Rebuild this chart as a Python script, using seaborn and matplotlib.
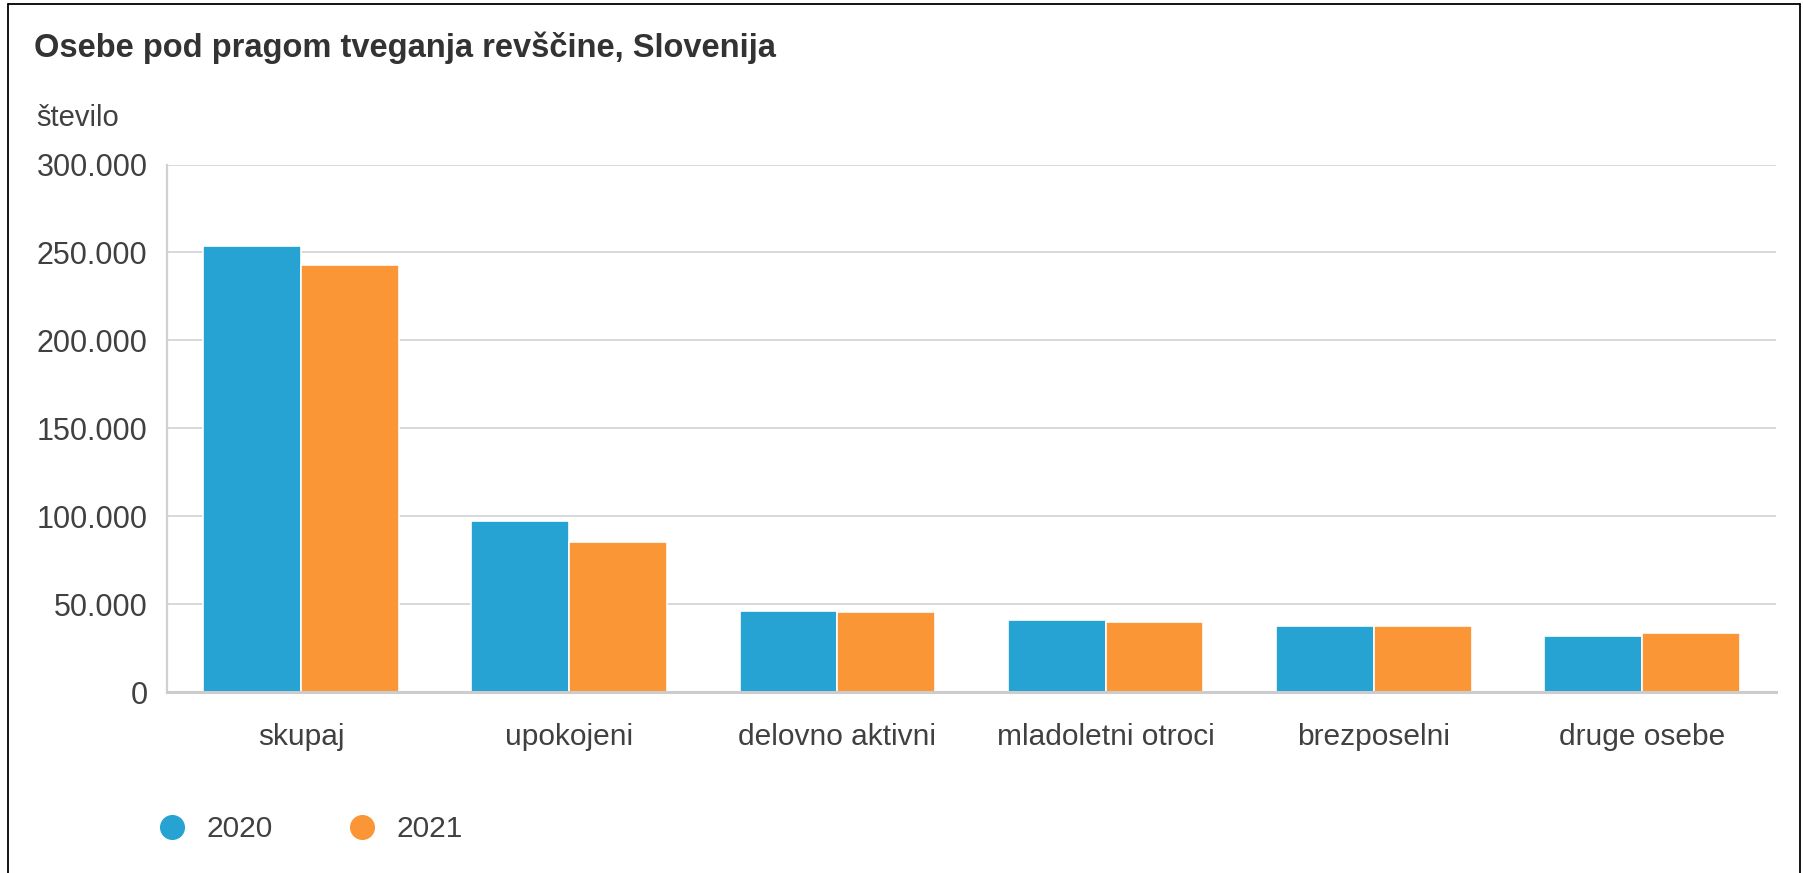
import matplotlib
matplotlib.use("Agg")
import matplotlib.pyplot as plt
import seaborn as sns
import pandas as pd
from matplotlib.lines import Line2D
from matplotlib.ticker import FuncFormatter, FixedLocator

categories = ["skupaj", "upokojeni", "delovno aktivni", "mladoletni otroci", "brezposelni", "druge osebe"]
years = ["2020", "2021"]
values_2020 = [253800, 97000, 45800, 40900, 37600, 31900]
values_2021 = [242700, 85300, 45600, 39600, 37500, 33800]
yticks = [0, 50000, 100000, 150000, 200000, 250000, 300000]

title = "Osebe pod pragom tveganja revščine, Slovenija"
ylabel = "število"
colors = ["#26A2D3", "#FB9637"]

sns.set_theme(style="white")
plt.rcParams["font.family"] = ["Liberation Sans", "DejaVu Sans"]

df = pd.DataFrame({
    "kategorija": categories * 2,
    "leto": [years[0]] * len(categories) + [years[1]] * len(categories),
    "vrednost": values_2020 + values_2021,
})

W, H = 1803, 873
fig = plt.figure(figsize=(W / 100, H / 100), dpi=100)
fig.patch.set_facecolor("white")

ax_left, ax_right = 167, 1776
ax_top, ax_bottom = 164.5, 692
ax = fig.add_axes([ax_left / W, 1 - ax_bottom / H, (ax_right - ax_left) / W, (ax_bottom - ax_top) / H])

sns.barplot(data=df, x="kategorija", y="vrednost", hue="leto", order=categories,
            hue_order=years, palette=colors, width=0.73, ax=ax,
            edgecolor="white", linewidth=1.2, saturation=1, legend=False)

ax.set_ylim(0, 300000)
ax.set_xlim(-0.5, len(categories) - 0.5)
ax.yaxis.set_major_locator(FixedLocator(yticks))
ax.yaxis.set_major_formatter(FuncFormatter(lambda v, p: f"{int(v):,}".replace(",", ".")))
ax.set_xlabel("")
ax.set_ylabel("")

txt_color = "#404040"
fs = 21.5
ax.grid(axis="y", color="#d6d6d6", linewidth=1.3)
ax.set_axisbelow(True)
for s in ["top", "right"]:
    ax.spines[s].set_visible(False)
ax.spines["left"].set_color("#d0d0d0")
ax.spines["left"].set_linewidth(1.6)
ax.spines["bottom"].set_color("#cccccc")
ax.spines["bottom"].set_linewidth(2.2)

ax.tick_params(axis="y", length=0, pad=14, labelsize=fs + 0.5, labelcolor=txt_color)
ax.tick_params(axis="x", which="major", length=0, pad=22, labelsize=fs, labelcolor=txt_color)
ax.set_xticks([i - 0.5 for i in range(len(categories) + 1)], minor=True)
ax.tick_params(axis="x", which="minor", length=7, width=1.2, color="#cccccc", direction="out")

fig.text(34 / W, 1 - 48 / H, title, fontsize=23.5, fontweight="bold", color="#333333",
         ha="left", va="center")
fig.text(36 / W, 1 - 118 / H, ylabel, fontsize=fs - 0.5, color=txt_color, ha="left", va="center")

handles = [Line2D([0], [0], marker="o", linestyle="", markersize=17,
                  markerfacecolor=c, markeredgecolor=c) for c in colors]
fig.legend(handles, years, loc="center left", bbox_to_anchor=(157 / W, 1 - 829 / H),
           ncol=2, frameon=False, fontsize=fs, handlelength=1.0, handletextpad=0.65,
           columnspacing=2.5, borderpad=0, borderaxespad=0, labelcolor=txt_color)

frame_kw = dict(color="black", linewidth=1.3, transform=fig.transFigure)
fig.add_artist(Line2D([8 / W, 1800 / W], [1 - 4 / H, 1 - 4 / H], **frame_kw))
fig.add_artist(Line2D([8 / W, 8 / W], [1 - 4 / H, 0], **frame_kw))
fig.add_artist(Line2D([1800 / W, 1800 / W], [1 - 4 / H, 0], **frame_kw))

fig.savefig("out.png", dpi=100)
